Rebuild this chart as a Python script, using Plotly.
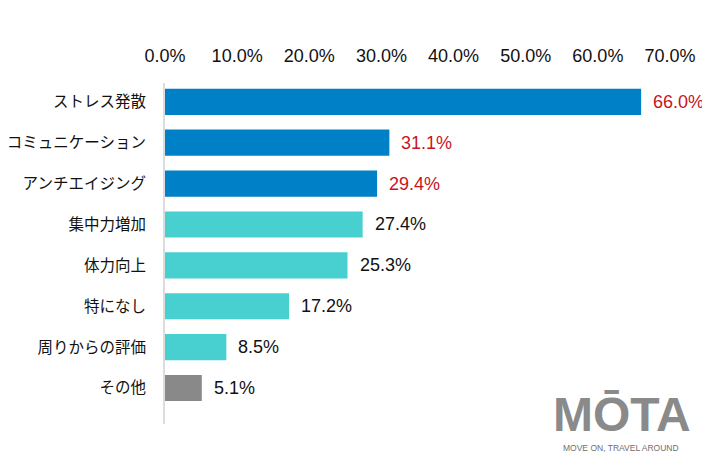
import plotly.graph_objects as go

categories = ["ストレス発散", "コミュニケーション", "アンチエイジング", "集中力増加",
              "体力向上", "特になし", "周りからの評価", "その他"]
values = [66.0, 31.1, 29.4, 27.4, 25.3, 17.2, 8.5, 5.1]
bar_colors = ["#0080C6", "#0080C6", "#0080C6", "#48CFD0", "#48CFD0", "#48CFD0", "#48CFD0", "#898989"]
label_colors = ["#C8141E", "#C8141E", "#C8141E", "#111111", "#111111", "#111111", "#111111", "#111111"]
tick_vals = [0, 10, 20, 30, 40, 50, 60, 70]
tick_text = ["0.0%", "10.0%", "20.0%", "30.0%", "40.0%", "50.0%", "60.0%", "70.0%"]

FONT = "Liberation Sans, Arial, Noto Sans CJK JP, sans-serif"
JFONT = "Noto Sans CJK JP, sans-serif"

# page body has an 8px margin; compensate so the plot lands where the reference has it
L, T, W, H = 157, 75, 505, 341
FIG_W, FIG_H = 710, 473

fig = go.Figure(go.Bar(
    x=values, y=categories, orientation="h",
    marker=dict(color=bar_colors, line=dict(width=0)),
    hoverinfo="skip",
))

for c, v, col in zip(categories, values, label_colors):
    fig.add_annotation(x=v, y=c, xref="x", yref="y", text=f"{v:.1f}%",
                       showarrow=False, xanchor="left", xshift=10,
                       font=dict(family=FONT, size=18, color=col))

def px_to_paper(px, py):
    return (px - 8 - L) / W, (FIG_H - (py - 8) - (FIG_H - T - H)) / H

lx, ly = px_to_paper(622, 414)
fig.add_annotation(xref="paper", yref="paper", x=lx, y=ly,
                   text="<b>MŌTA</b>", showarrow=False, xanchor="center", yanchor="middle",
                   font=dict(family="Liberation Sans, Arial", size=48, color="#8a8a8a"))
sx, sy = px_to_paper(621, 448)
fig.add_annotation(xref="paper", yref="paper", x=sx, y=sy,
                   text="MOVE ON, TRAVEL AROUND", showarrow=False, xanchor="center", yanchor="middle",
                   font=dict(family="Liberation Sans, Arial", size=8.5, color="#6f6f6f"))

fig.update_layout(
    width=FIG_W, height=FIG_H,
    margin=dict(l=L, r=FIG_W - L - W, t=T, b=FIG_H - T - H, autoexpand=False),
    paper_bgcolor="white", plot_bgcolor="white",
    bargap=0.36, showlegend=False,
    font=dict(family=FONT, color="#111111"),
    xaxis=dict(side="top", range=[0, 70], tickvals=tick_vals, ticktext=tick_text,
               showgrid=False, zeroline=False, showline=False, ticks="",
               tickfont=dict(family=FONT, size=18, color="#111111"),
               ticklabelstandoff=16, fixedrange=True),
    yaxis=dict(type="category", range=[7.88, -0.46], showgrid=False, zeroline=False,
               showline=True, linecolor="#dcdcdc", linewidth=2, ticks="",
               tickfont=dict(family=JFONT, size=15.5, color="#111111"),
               ticklabelstandoff=14, fixedrange=True),
)

fig.write_html("out.html")
